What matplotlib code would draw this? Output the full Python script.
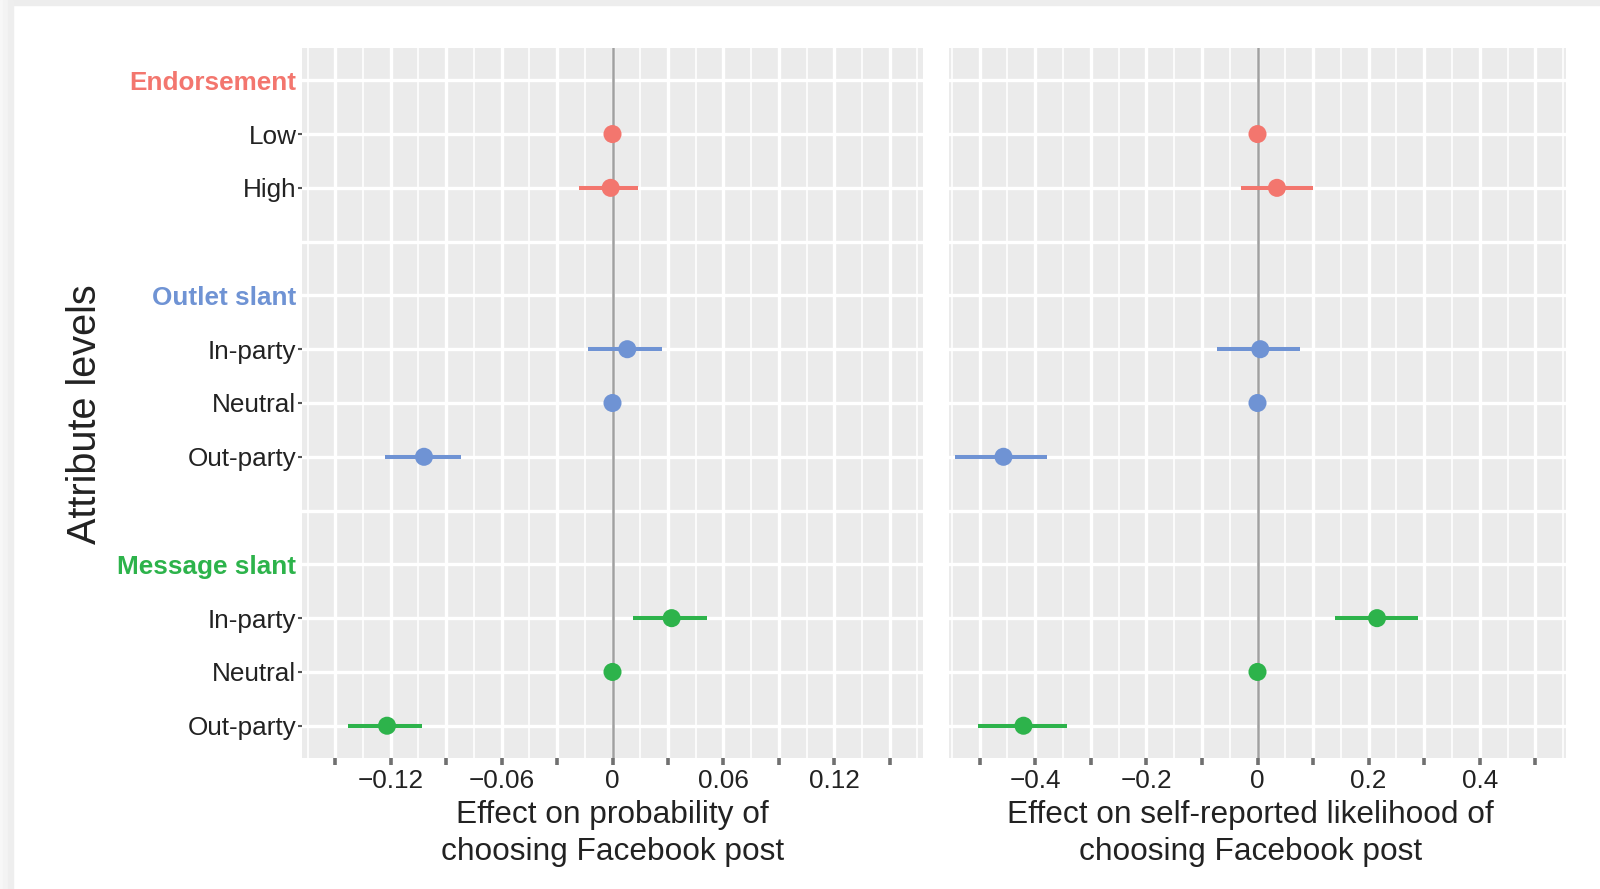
import numpy as np
import matplotlib.pyplot as plt
from matplotlib.patches import Rectangle

plt.rcParams['font.family'] = ['Liberation Sans', 'DejaVu Sans']

# ================= DATA =================
attributes = ['Endorsement', 'Outlet slant', 'Message slant']
attr_colors = ['#F3766E', '#6F93D4', '#2DB34B']
levels = [['Low', 'High'],
          ['In-party', 'Neutral', 'Out-party'],
          ['In-party', 'Neutral', 'Out-party']]

# effect on probability of choosing the post (left panel)
choice_est = [0.0, -0.001, 0.008, 0.0, -0.102, 0.032, 0.0, -0.122]
choice_lo = [0.0, -0.018, -0.013, 0.0, -0.123, 0.011, 0.0, -0.143]
choice_hi = [0.0, 0.014, 0.027, 0.0, -0.082, 0.051, 0.0, -0.103]

# effect on self-reported likelihood (right panel)
likely_est = [0.0, 0.035, 0.005, 0.0, -0.457, 0.215, 0.0, -0.421]
likely_lo = [0.0, -0.029, -0.073, 0.0, -0.544, 0.140, 0.0, -0.503]
likely_hi = [0.0, 0.099, 0.077, 0.0, -0.379, 0.289, 0.0, -0.343]

left_ticks = [-0.15, -0.12, -0.09, -0.06, -0.03, 0, 0.03, 0.06, 0.09, 0.12, 0.15]
left_labels = ['', '\u22120.12', '', '\u22120.06', '', '0', '', '0.06', '', '0.12', '']
right_ticks = [-0.5, -0.4, -0.3, -0.2, -0.1, 0, 0.1, 0.2, 0.3, 0.4, 0.5]
right_labels = ['', '\u22120.4', '', '\u22120.2', '', '0', '', '0.2', '', '0.4', '']

left_title = 'Effect on probability of\nchoosing Facebook post'
right_title = 'Effect on self-reported likelihood of\nchoosing Facebook post'

# ================= ROW LAYOUT =================
row_labels = []
row_kind = []       # 'head', 'level', 'blank'
row_color = []
lvl_y = []
lvl_col = []
for k, (att, col, lv) in enumerate(zip(attributes, attr_colors, levels)):
    row_labels.append(att); row_kind.append('head'); row_color.append(col)
    for name in lv:
        lvl_y.append(len(row_labels)); lvl_col.append(col)
        row_labels.append(name); row_kind.append('level'); row_color.append('#222222')
    if k < len(attributes) - 1:
        row_labels.append(''); row_kind.append('blank'); row_color.append('#222222')
row_y = np.arange(len(row_labels))

# ================= FIGURE =================
fig = plt.figure(figsize=(16, 8.89), dpi=100)
fig.patch.set_facecolor('white')

# screenshot border
fig.patches.append(Rectangle((0, 1 - 5 / 889), 1, 5 / 889, transform=fig.transFigure,
                             color='#EDEDED', zorder=-10))
for x0, w, c in [(0, 3, '#F7F7F7'), (3, 5, '#F3F3F3'), (8, 5, '#EEEEEE')]:
    fig.patches.append(Rectangle((x0 / 1600, 0), w / 1600, 1, transform=fig.transFigure,
                                 color=c, zorder=-10))

bottom = 1 - 758 / 889
height = 710 / 889
ax1 = fig.add_axes([302 / 1600, bottom, 621 / 1600, height])
ax2 = fig.add_axes([949 / 1600, bottom, 617 / 1600, height])

panels = [
    (ax1, choice_est, choice_lo, choice_hi, left_ticks, left_labels, 0.168, left_title, 0.5),
    (ax2, likely_est, likely_lo, likely_hi, right_ticks, right_labels, 0.555, right_title, 0.488),
]

for ax, est, lo, hi, ticks, labels, lim, title, tx in panels:
    ax.set_facecolor('#EBEBEB')
    for s in ax.spines.values():
        s.set_visible(False)

    step = ticks[1] - ticks[0]
    t = np.array(ticks)
    minor = np.concatenate([[t[0] - step / 2], (t[:-1] + t[1:]) / 2, [t[-1] + step / 2]])
    ax.set_xticks(ticks)
    ax.set_xticklabels(labels)
    ax.set_xticks(minor, minor=True)
    ax.set_xlim(-lim, lim)
    ax.set_yticks(row_y)
    ax.set_ylim(len(row_labels) - 1 + 0.6, -0.6)

    ax.grid(which='major', color='white', lw=2.4)
    ax.grid(which='minor', axis='x', color='white', lw=1.2)
    ax.set_axisbelow(True)

    ax.tick_params(axis='x', which='major', length=5, width=2.6, color='#707070',
                   labelsize=18.8, labelcolor='#222222', pad=3)
    ax.tick_params(axis='x', which='minor', length=0)

    ax.axvline(0, color='#A0A0A0', lw=1.8, zorder=2)
    ax.hlines(lvl_y, lo, hi, colors=lvl_col, lw=2.9, zorder=3)
    ax.scatter(est, lvl_y, s=13 ** 2, c=lvl_col, zorder=4, linewidths=0)

    ax.set_xlabel(title, fontsize=22.8, color='#222222', linespacing=1.32)
    ax.xaxis.set_label_coords(tx, -0.059)
    ax.xaxis.label.set_va('top')

# left y labels
ax1.set_yticklabels(row_labels)
ax1.tick_params(axis='y', length=3, width=1.5, color='#555555', labelsize=18.8,
                labelcolor='#222222', pad=1)
for tick, kind, col in zip(ax1.yaxis.get_major_ticks(), row_kind, row_color):
    tick.label1.set_color(col)
    if kind == 'head':
        tick.label1.set_fontweight('bold')
    if kind != 'level':
        tick.tick1line.set_visible(False)

ax2.tick_params(axis='y', length=0, labelleft=False)

ax1.set_ylabel('Attribute levels', fontsize=28.5, color='#222222', va='center')
ax1.yaxis.set_label_coords((85 - 302) / 621, 1 - (414 - 48) / 710)

fig.savefig('out.png', dpi=100)
